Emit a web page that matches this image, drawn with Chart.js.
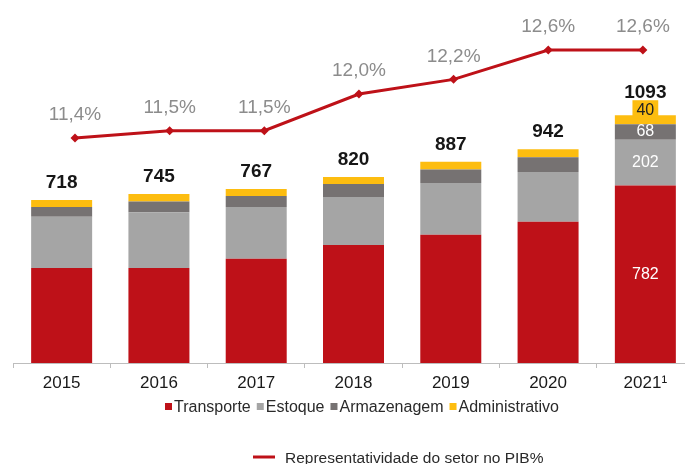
<!DOCTYPE html>
<html><head><meta charset="utf-8">
<script src="https://cdn.jsdelivr.net/npm/chart.js@4/dist/chart.umd.min.js"></script>
<style>
html,body{margin:0;padding:0;background:#fff;overflow:hidden;}
#wrap{width:685px;height:464px;overflow:hidden;position:relative;}
#c{display:block;}
</style></head>
<body>
<div id="wrap"><canvas id="c" width="700" height="464"></canvas></div>
<script>
const years = ['2015','2016','2017','2018','2019','2020','2021\u00B9'];
const transporte = [419, 419, 459, 520, 565, 622, 782];
const estoque = [226, 245, 228, 212, 228, 220, 202];
const armazenagem = [42, 48, 49, 57, 60, 65, 68];
const administrativo = [31, 33, 31, 31, 34, 35, 40];
const totals = [718, 745, 767, 820, 887, 942, 1093];
const pibShare = [11.4, 11.5, 11.5, 12.0, 12.2, 12.6, 12.6];
const pibLabels = ['11,4%','11,5%','11,5%','12,0%','12,2%','12,6%','12,6%'];
const detailIndex = 6; // year whose segments carry value labels

const barColors = ['#BE1118', '#A5A5A5', '#767272', '#FDBD10'];
const lineColor = '#BE1118';
const FONT = '"Liberation Sans", Arial, sans-serif';

const labelPlugin = {
  id: 'labels',
  afterDatasetsDraw(chart) {
    const ctx = chart.ctx;
    ctx.save();
    ctx.textAlign = 'center';
    ctx.textBaseline = 'middle';
    const metas = [0,1,2,3].map(i => chart.getDatasetMeta(i));
    // totals
    ctx.font = 'bold 19px ' + FONT;
    ctx.fillStyle = '#161616';
    totals.forEach((t, i) => {
      const el = metas[3].data[i];
      const off = i === detailIndex ? 22 : 17;
      ctx.fillText(String(t), el.x, el.y - off);
    });
    // segment labels on detail bar
    ctx.font = '16px ' + FONT;
    const segVals = [transporte, estoque, armazenagem];
    segVals.forEach((arr, k) => {
      const el = metas[k].data[detailIndex];
      ctx.fillStyle = '#ffffff';
      ctx.fillText(String(arr[detailIndex]), el.x, (el.y + el.base) / 2);
    });
    {
      const el = metas[3].data[detailIndex];
      const txt = String(administrativo[detailIndex]);
      const cy = el.y - 6;
      const w = ctx.measureText(txt).width + 8;
      ctx.fillStyle = barColors[3];
      ctx.fillRect(el.x - w / 2, cy - 9, w, 18);
      ctx.fillStyle = '#222';
      ctx.fillText(txt, el.x, cy + 1);
    }
    // line labels
    const lm = chart.getDatasetMeta(4);
    ctx.font = '19px ' + FONT;
    ctx.fillStyle = '#8C8C8C';
    lm.data.forEach((p, i) => {
      ctx.fillText(pibLabels[i], p.x, p.y - 23);
    });
    // legend row 1
    const names = chart.data.datasets.slice(0, 4).map(d => d.label);
    ctx.font = '16px ' + FONT;
    ctx.textAlign = 'left';
    const sq = 7, gap1 = 2, gap2 = 6;
    let total = 0;
    names.forEach((n, i) => { total += sq + gap1 + ctx.measureText(n).width + (i < 3 ? gap2 : 0); });
    let x = 362 - total / 2;
    const ly = 407;
    names.forEach((n, i) => {
      ctx.fillStyle = barColors[i];
      ctx.fillRect(x, ly - 4, sq, sq);
      x += sq + gap1;
      ctx.fillStyle = '#2a2a2a';
      ctx.fillText(n, x, ly + 1);
      x += ctx.measureText(n).width + gap2;
    });
    // legend row 2 (line)
    const lbl = chart.data.datasets[4].label;
    ctx.font = '15.5px ' + FONT;
    ctx.strokeStyle = lineColor;
    ctx.lineWidth = 3;
    ctx.beginPath();
    ctx.moveTo(253, 457);
    ctx.lineTo(275, 457);
    ctx.stroke();
    ctx.fillStyle = '#2a2a2a';
    ctx.fillText(lbl, 285, 459);
    ctx.restore();
  }
};

const ds = (label, data, i) => ({
  type: 'bar', label, data, backgroundColor: barColors[i],
  xAxisID: 'x', yAxisID: 'y', order: 1, stack: 's', grouped: false,
  barPercentage: 0.627, categoryPercentage: 1.0, borderWidth: 0
});

new Chart(document.getElementById('c'), {
  type: 'bar',
  data: {
    labels: years,
    datasets: [
      ds('Transporte', transporte, 0),
      ds('Estoque', estoque, 1),
      ds('Armazenagem', armazenagem, 2),
      ds('Administrativo', administrativo, 3),
      {
        type: 'line', label: 'Representatividade do setor no PIB%',
        data: pibShare.map((v, i) => ({ x: i, y: v })),
        xAxisID: 'x2', yAxisID: 'y2', order: 0,
        borderColor: lineColor, backgroundColor: lineColor, borderWidth: 3,
        pointStyle: 'rectRot', pointRadius: 4.5, pointBackgroundColor: lineColor,
        pointBorderWidth: 0, tension: 0
      }
    ]
  },
  options: {
    responsive: false,
    animation: false,
    events: [],
    layout: { padding: { left: 13, right: 6, top: 3, bottom: 0 } },
    plugins: { legend: { display: false }, tooltip: { enabled: false } },
    scales: {
      x: {
        stacked: true,
        offset: true,
        grid: { display: true, drawOnChartArea: false, drawTicks: true, tickLength: 5, offset: true, color: '#BDBDBD' },
        border: { display: true, color: '#BDBDBD', width: 1 },
        ticks: { color: '#1a1a1a', font: { family: FONT, size: 17 }, padding: 5, maxRotation: 0 },
        afterFit(s) { s.height = 101; }
      },
      x2: {
        type: 'linear', display: false, offset: false, grid: { offset: false },
        min: -0.655, max: 6.54
      },
      y: { stacked: true, display: false, min: 0, max: 1580 },
      y2: { display: false, min: 8.336, max: 13.22 }
    }
  },
  plugins: [labelPlugin]
});
</script>
</body></html>
